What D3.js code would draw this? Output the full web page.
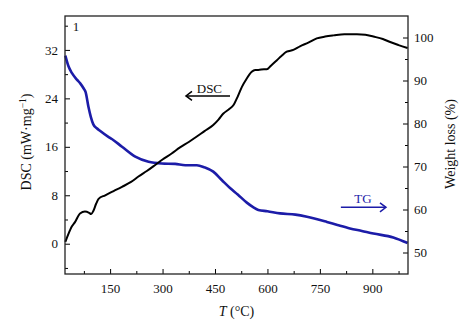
<!DOCTYPE html>
<html><head><meta charset="utf-8">
<script src="https://cdn.jsdelivr.net/npm/d3@7"></script>
<style>
body{margin:0;background:#fff;}
svg{display:block;font-family:"Liberation Serif","DejaVu Serif",serif;}
</style></head><body>
<svg id="c" width="474" height="336"></svg>
<script>
// ---- data ----
const dscT = [22, 30, 40, 50, 64, 78, 90, 96, 102, 110, 117, 136, 160, 184, 210, 231, 255, 279, 300, 326, 350, 375, 398, 420, 445, 460, 474, 490, 503, 515, 527, 540, 555, 565, 574, 590, 598, 610, 627, 640, 655, 674, 693, 717, 741, 765, 789, 820, 856, 880, 903, 930, 951, 975, 1001];
const dscVal = [0.3, 1.5, 2.8, 3.6, 5.0, 5.3, 5.1, 4.9, 5.4, 6.6, 7.4, 8.0, 8.7, 9.4, 10.2, 11.1, 12.0, 13.0, 13.9, 14.9, 15.9, 16.8, 17.7, 18.6, 19.6, 20.5, 21.5, 22.2, 22.9, 24.3, 25.9, 27.2, 28.4, 28.7, 28.7, 28.8, 28.8, 29.4, 30.3, 31.0, 31.7, 32.0, 32.6, 33.2, 33.9, 34.2, 34.4, 34.6, 34.6, 34.5, 34.2, 33.8, 33.3, 32.8, 32.3];
const tgT = [22, 31, 41, 55, 64, 74, 80, 88, 95, 102, 112, 121, 145, 155, 184, 222, 260, 298, 336, 365, 398, 420, 445, 470, 493, 515, 541, 560, 574, 600, 636, 680, 713, 770, 800, 836, 870, 903, 960, 1001];
const tgVal = [95.8, 93.3, 91.7, 90.2, 89.4, 88.2, 87.3, 83.9, 81.5, 79.8, 78.9, 78.3, 76.9, 76.4, 74.6, 72.3, 71.1, 70.7, 70.6, 70.3, 70.3, 69.8, 68.8, 66.8, 65.0, 63.5, 61.6, 60.5, 59.9, 59.6, 59.1, 58.8, 58.3, 57.1, 56.4, 55.6, 55.0, 54.4, 53.5, 52.2];
const xTicks = [150, 300, 450, 600, 750, 900];
const xMinor = [75, 225, 375, 525, 675, 825, 975];
const yLeftTicks = [0, 8, 16, 24, 32];
const yLeftMinor = [-4, 4, 12, 20, 28, 36];
const yRightTicks = [50, 60, 70, 80, 90, 100];
const yRightMinor = [55, 65, 75, 85, 95];

// ---- layout ----
const L = 65, R = 408, T = 16, B = 274;
const svg = d3.select("#c");
const x = d3.scaleLinear().domain([21, 1002]).range([L, R]);
const yL = d3.scaleLinear().domain([-5, 37.6]).range([B, T]);
const yR = d3.scaleLinear().domain([45, 105]).range([B, T]);
const fs = 13;

// curves
const dscData = dscT.map((t, i) => [t, dscVal[i]]);
const tgData = tgT.map((t, i) => [t, tgVal[i]]);
svg.append("path").datum(tgData)
  .attr("fill", "none").attr("stroke", "#1c1ca8").attr("stroke-width", 2.6)
  .attr("stroke-linejoin", "round")
  .attr("d", d3.line().x(d => x(d[0])).y(d => yR(d[1])).curve(d3.curveMonotoneX));
svg.append("path").datum(dscData)
  .attr("fill", "none").attr("stroke", "#000").attr("stroke-width", 2)
  .attr("stroke-linejoin", "round")
  .attr("d", d3.line().x(d => x(d[0])).y(d => yL(d[1])).curve(d3.curveMonotoneX));

// axes
function styleAxis(g) {
  g.select(".domain").remove();
  g.selectAll("line").attr("stroke", "#000").attr("stroke-width", 1);
  g.selectAll("text").attr("font-size", fs).attr("fill", "#111")
    .attr("font-family", '"Liberation Serif","DejaVu Serif",serif');
}
svg.append("g").attr("transform", `translate(0,${B})`)
  .call(d3.axisBottom(x).tickValues(xTicks).tickSize(-5).tickPadding(10)).call(styleAxis);
svg.append("g").attr("transform", `translate(0,${B})`)
  .call(d3.axisBottom(x).tickValues(xMinor).tickSize(-3).tickFormat("")).call(styleAxis);
svg.append("g").attr("transform", `translate(${L},0)`)
  .call(d3.axisLeft(yL).tickValues(yLeftTicks).tickSize(-5).tickPadding(7)).call(styleAxis);
svg.append("g").attr("transform", `translate(${L},0)`)
  .call(d3.axisLeft(yL).tickValues(yLeftMinor).tickSize(-3).tickFormat("")).call(styleAxis);
svg.append("g").attr("transform", `translate(${R},0)`)
  .call(d3.axisRight(yR).tickValues(yRightTicks).tickSize(-5).tickPadding(6)).call(styleAxis);
svg.append("g").attr("transform", `translate(${R},0)`)
  .call(d3.axisRight(yR).tickValues(yRightMinor).tickSize(-3).tickFormat("")).call(styleAxis);

// frame
svg.append("rect").attr("x", L).attr("y", T).attr("width", R - L).attr("height", B - T)
  .attr("fill", "none").attr("stroke", "#222").attr("stroke-width", 1.3);

// axis titles
const xt = svg.append("text").attr("x", 236.5).attr("y", 316).attr("text-anchor", "middle")
  .attr("font-size", 14).attr("fill", "#111");
xt.append("tspan").attr("font-style", "italic").text("T");
xt.append("tspan").text(" (°C)");

const ylt = svg.append("text").attr("transform", "translate(31,142) rotate(-90)")
  .attr("text-anchor", "middle").attr("font-size", 14).attr("fill", "#111");
ylt.append("tspan").text("DSC (mW·mg");
ylt.append("tspan").attr("font-size", 9.5).attr("dy", -5).text("−1");
ylt.append("tspan").attr("dy", 5).text(")");

svg.append("text").attr("transform", "translate(455,144) rotate(-90)")
  .attr("text-anchor", "middle").attr("font-size", 14).attr("fill", "#111")
  .text("Weight loss (%)");

svg.append("text").attr("x", 76).attr("y", 31).attr("text-anchor", "middle")
  .attr("font-size", 13).attr("fill", "#111").text("1");

// annotations (placed in data coordinates)
function arrow(x1, x2, yy, color, dir) {
  const y = yy;
  svg.append("line").attr("x1", x1).attr("x2", x2).attr("y1", y).attr("y2", y)
    .attr("stroke", color).attr("stroke-width", 1.5);
  const hx = x2, s = 6 * dir;
  svg.append("path").attr("d", `M${hx - s},${y - 4.5}L${hx},${y}L${hx - s},${y + 4.5}`)
    .attr("fill", "none").attr("stroke", color).attr("stroke-width", 1.5);
}
arrow(x(493), x(367), yL(24.4), "#000", -1);
svg.append("text").attr("x", x(434)).attr("y", yL(24.9)).attr("text-anchor", "middle")
  .attr("font-size", 13).attr("fill", "#111").text("DSC");
arrow(x(810), x(939), yR(60.5), "#1c1ca8", 1);
svg.append("text").attr("x", x(873)).attr("y", yR(61.5)).attr("text-anchor", "middle")
  .attr("font-size", 13).attr("fill", "#1c1ca8").text("TG");
</script>
</body></html>
